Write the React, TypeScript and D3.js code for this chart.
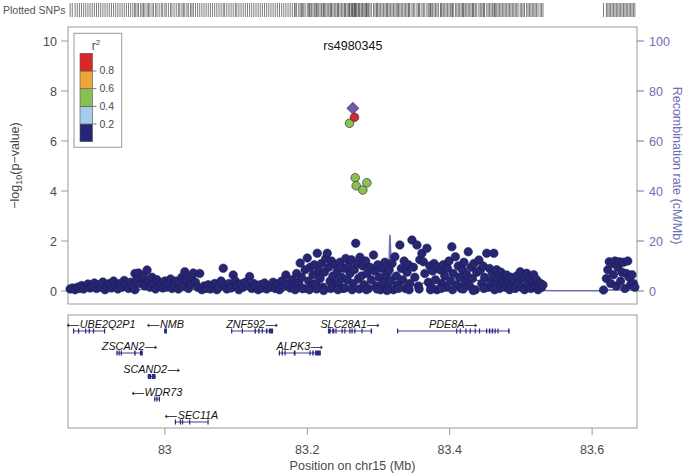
import React from "react";
import * as d3 from "d3";

const W = 685;
const H = 475;

const xDomain: [number, number] = [82.864, 83.663];
const xTicks = [83, 83.2, 83.4, 83.6];
const yTicks = [0, 2, 4, 6, 8, 10];
const recombTicks = [0, 20, 40, 60, 80, 100];
const r2Breaks = [0.2, 0.4, 0.6, 0.8];
const r2Colors = ["#262674", "#a3cde9", "#88c152", "#eda63a", "#d7282a"];
const indexName = "rs4980345";
const indexSnp: [number, number] = [83.264, 7.31];

// [position Mb, -log10 p, r2]
const ldSnps: [number, number, number][] = [
  [83.2593, 6.71, 0.5],
  [83.2673, 4.53, 0.5],
  [83.2687, 4.21, 0.5],
  [83.278, 4.04, 0.5],
  [83.2837, 4.33, 0.5],
  [83.2663, 6.95, 0.9],
];

// [position Mb, -log10 p], r2 < 0.2
const bgSnps: [number, number][] = [
  [82.867, 0.08], [82.870, 0.12], [82.874, 0.05], [82.877, 0.15], [82.880, 0.10], [82.883, 0.22],
  [82.886, 0.08], [82.889, 0.18], [82.892, 0.28], [82.895, 0.12], [82.898, 0.20], [82.901, 0.32],
  [82.904, 0.10], [82.907, 0.25], [82.910, 0.15], [82.913, 0.36], [82.916, 0.05], [82.919, 0.20],
  [82.922, 0.30], [82.925, 0.12], [82.928, 0.40], [82.931, 0.22], [82.934, 0.08], [82.937, 0.30],
  [82.940, 0.15], [82.943, 0.42], [82.946, 0.25], [82.949, 0.10], [82.952, 0.35], [82.955, 0.18],
  [82.958, 0.05], [82.958, 0.70], [82.961, 0.48], [82.963, 0.72], [82.966, 0.30], [82.968, 0.55],
  [82.970, 0.62], [82.972, 0.20], [82.975, 0.84], [82.977, 0.40], [82.979, 0.15], [82.982, 0.55],
  [82.984, 0.28], [82.987, 0.08], [82.989, 0.45], [82.992, 0.22], [82.995, 0.30], [82.997, 0.12],
  [83.000, 0.40], [83.002, 0.15], [83.005, 0.30], [83.008, 0.48], [83.010, 0.10], [83.013, 0.25],
  [83.016, 0.40], [83.019, 0.08], [83.021, 0.32], [83.024, 0.55], [83.026, 0.18], [83.028, 0.77],
  [83.031, 0.45], [83.033, 0.10], [83.036, 0.28], [83.038, 0.60], [83.040, 0.72], [83.043, 0.35],
  [83.046, 0.15], [83.049, 0.70], [83.052, 0.05], [83.055, 0.20], [83.058, 0.10], [83.061, 0.25],
  [83.064, 0.08], [83.067, 0.18], [83.070, 0.30], [83.073, 0.05], [83.076, 0.15], [83.079, 0.40],
  [83.082, 0.91], [83.084, 0.22], [83.087, 0.08], [83.090, 0.30], [83.093, 0.12], [83.096, 0.64],
  [83.099, 0.40], [83.101, 0.20], [83.104, 0.05], [83.107, 0.28], [83.110, 0.15], [83.113, 0.35],
  [83.116, 0.22], [83.119, 0.58], [83.122, 0.10], [83.125, 0.30], [83.128, 0.18], [83.131, 0.05],
  [83.134, 0.25], [83.137, 0.12], [83.140, 0.32], [83.143, 0.08], [83.146, 0.20], [83.149, 0.15],
  [83.152, 0.35], [83.155, 0.10], [83.158, 0.28], [83.161, 0.05], [83.164, 0.40], [83.167, 0.18],
  [83.170, 0.64], [83.173, 0.30], [83.176, 0.12], [83.179, 0.45], [83.182, 0.20], [83.185, 0.70],
  [83.188, 0.35], [83.190, 1.12], [83.192, 0.55], [83.195, 0.10], [83.197, 0.85], [83.200, 1.32],
  [83.202, 0.40], [83.204, 0.95], [83.206, 0.20], [83.208, 0.65], [83.210, 1.05], [83.212, 0.30],
  [83.214, 1.51], [83.216, 0.80], [83.218, 0.50], [83.220, 1.10], [83.222, 0.15], [83.224, 0.75],
  [83.226, 1.30], [83.228, 1.51], [83.230, 0.95], [83.232, 0.40], [83.234, 1.20], [83.236, 0.60],
  [83.238, 0.25], [83.240, 1.05], [83.242, 0.80], [83.244, 0.35], [83.246, 1.15], [83.248, 0.55],
  [83.250, 0.10], [83.252, 0.90], [83.254, 1.30], [83.256, 0.45], [83.258, 1.00], [83.260, 0.70],
  [83.262, 1.25], [83.264, 0.30], [83.266, 0.85], [83.268, 1.91], [83.270, 1.10], [83.272, 0.50],
  [83.274, 1.35], [83.183, 0.05], [83.193, 0.10], [83.203, 0.05], [83.213, 0.08], [83.223, 0.02],
  [83.233, 0.10], [83.243, 0.05], [83.253, 0.12], [83.263, 0.05], [83.273, 0.08],
  [83.276, 0.60], [83.278, 1.00], [83.280, 0.25], [83.282, 1.20], [83.284, 0.70], [83.286, 0.10],
  [83.288, 0.95], [83.290, 0.45], [83.293, 1.44], [83.295, 0.80], [83.297, 0.20], [83.299, 1.05],
  [83.301, 0.55], [83.303, 0.05], [83.305, 0.90], [83.307, 0.35], [83.309, 1.15], [83.311, 0.65],
  [83.313, 0.15], [83.315, 0.85], [83.317, 0.40], [83.319, 1.10], [83.321, 0.05], [83.323, 1.37],
  [83.325, 0.60], [83.327, 0.25], [83.330, 1.84], [83.332, 0.90], [83.334, 0.45], [83.336, 1.20],
  [83.338, 0.10], [83.340, 0.75], [83.342, 1.05], [83.344, 0.30], [83.347, 2.04], [83.349, 0.95],
  [83.351, 0.55], [83.354, 1.84], [83.356, 0.20], [83.358, 1.25], [83.361, 1.51], [83.363, 1.17],
  [83.365, 0.70], [83.368, 1.71], [83.370, 0.35], [83.372, 1.00], [83.374, 0.15], [83.376, 0.80],
  [83.378, 1.10], [83.380, 0.45], [83.382, 0.05], [83.384, 0.95], [83.387, 0.84], [83.389, 0.30],
  [83.391, 1.05], [83.393, 0.60], [83.395, 0.15], [83.397, 0.90], [83.399, 1.20], [83.401, 0.40],
  [83.403, 1.77], [83.405, 0.70], [83.408, 1.37], [83.410, 0.25], [83.412, 1.00], [83.414, 0.55],
  [83.416, 0.10], [83.418, 0.85], [83.420, 1.15], [83.422, 0.35], [83.424, 0.65], [83.426, 1.57],
  [83.428, 0.20], [83.430, 0.95], [83.432, 0.50], [83.434, 1.10], [83.436, 0.05], [83.438, 0.75],
  [83.441, 1.24], [83.443, 0.84], [83.445, 0.30], [83.447, 1.00], [83.449, 0.55], [83.452, 1.51],
  [83.454, 0.15], [83.456, 0.90], [83.458, 0.40], [83.460, 0.70], [83.462, 1.51], [83.464, 0.25],
  [83.466, 0.85], [83.468, 0.50], [83.470, 0.10], [83.472, 0.75], [83.474, 0.35], [83.476, 0.60],
  [83.478, 0.15], [83.480, 0.64], [83.482, 0.30], [83.484, 0.05], [83.486, 0.55], [83.488, 0.20],
  [83.490, 0.45], [83.492, 0.10], [83.494, 0.60], [83.496, 0.30], [83.499, 0.77], [83.501, 0.15],
  [83.503, 0.50], [83.505, 0.05], [83.508, 0.71], [83.510, 0.25], [83.512, 0.55], [83.514, 0.10],
  [83.516, 0.40], [83.518, 0.65], [83.520, 0.20], [83.522, 0.45], [83.524, 0.05], [83.527, 0.31],
  [83.529, 0.15], [83.531, 0.24], [83.283, 0.05], [83.298, 0.08], [83.312, 0.02], [83.328, 0.10],
  [83.343, 0.05], [83.357, 0.08], [83.373, 0.05], [83.388, 0.10], [83.404, 0.05], [83.419, 0.08],
  [83.433, 0.02], [83.448, 0.10], [83.463, 0.05],
  [83.616, 0.04], [83.620, 0.50], [83.622, 0.85], [83.624, 1.17], [83.626, 0.30], [83.628, 1.10],
  [83.630, 0.65], [83.632, 1.20], [83.634, 0.20], [83.636, 0.95], [83.638, 1.17], [83.640, 0.40],
  [83.642, 0.75], [83.644, 1.15], [83.646, 0.10], [83.648, 0.70], [83.650, 1.20], [83.652, 0.55],
  [83.654, 0.25], [83.656, 0.65], [83.658, 0.30], [83.660, 0.15],
];

// [position Mb, recombination rate cM/Mb]
const recomb: [number, number][] = [
  [82.864, 0.5], [82.9, 0.8], [82.95, 0.4], [83.0, 1.0], [83.05, 0.6], [83.1, 0.9], [83.15, 1.2],
  [83.2, 2.0], [83.25, 3.5], [83.285, 3.0], [83.288, 7.0], [83.292, 2.5], [83.314, 2.0],
  [83.316, 22.5], [83.319, 3.0], [83.35, 2.5], [83.4, 5.0], [83.45, 4.0], [83.47, 1.0],
  [83.5, 0.3], [83.55, 0.1], [83.61, 0.1], [83.63, 0.5], [83.663, 0.3],
];

interface Gene { name: string; start: number; end: number; strand: number; row: number; exons: [number, number][]; }
const genes: Gene[] = [
  { name: "UBE2Q2P1", start: 82.871, end: 82.916, strand: -1, row: 0,
    exons: [[82.871, 82.8725], [82.878, 82.8795], [82.888, 82.8895], [82.893, 82.8945], [82.899, 82.9005], [82.9145, 82.916]] },
  { name: "NMB", start: 82.999, end: 83.003, strand: -1, row: 0, exons: [[82.999, 83.003]] },
  { name: "ZNF592", start: 83.093, end: 83.152, strand: 1, row: 0,
    exons: [[83.093, 83.0945], [83.108, 83.1095], [83.126, 83.128], [83.131, 83.133], [83.136, 83.1375], [83.142, 83.144], [83.146, 83.152]] },
  { name: "SLC28A1", start: 83.229, end: 83.291, strand: 1, row: 0,
    exons: [[83.229, 83.233], [83.235, 83.238], [83.2395, 83.241], [83.248, 83.2495], [83.252, 83.2535], [83.259, 83.2605], [83.262, 83.2635], [83.266, 83.2675], [83.276, 83.2775], [83.289, 83.291]] },
  { name: "PDE8A", start: 83.326, end: 83.484, strand: 1, row: 0,
    exons: [[83.326, 83.3272], [83.409, 83.4102], [83.414, 83.4152], [83.422, 83.4232], [83.428, 83.4292], [83.435, 83.4362], [83.441, 83.4422], [83.451, 83.4525], [83.455, 83.457], [83.459, 83.461], [83.463, 83.4642], [83.467, 83.4682], [83.482, 83.484]] },
  { name: "ZSCAN2", start: 82.932, end: 82.969, strand: 1, row: 1,
    exons: [[82.932, 82.9335], [82.935, 82.9365], [82.938, 82.9395], [82.957, 82.959], [82.965, 82.969]] },
  { name: "ALPK3", start: 83.160, end: 83.219, strand: 1, row: 1,
    exons: [[83.160, 83.1615], [83.164, 83.1655], [83.168, 83.1695], [83.181, 83.1835], [83.203, 83.2045], [83.207, 83.209], [83.211, 83.219]] },
  { name: "SCAND2", start: 82.976, end: 82.987, strand: 1, row: 2, exons: [[82.976, 82.981], [82.982, 82.987]] },
  { name: "WDR73", start: 82.985, end: 82.993, strand: -1, row: 3,
    exons: [[82.985, 82.9865], [82.988, 82.9895], [82.9915, 82.993]] },
  { name: "SEC11A", start: 83.014, end: 83.061, strand: -1, row: 4,
    exons: [[83.014, 83.0152], [83.021, 83.0222], [83.024, 83.0252], [83.034, 83.0352], [83.0598, 83.061]] },
];

const FONT = "'Liberation Sans', Arial, Helvetica, sans-serif";
const TXT = "#4a4a4a";
const FRAME = "#9a9a9a";
const RECOMB = "#6e6eb4";

export default function App() {
  const left = 68, right = 637;
  const top = 27, bottom = 304;
  const gTop = 315, gBottom = 428;
  const rowY = [331, 353, 376.5, 399, 422];

  const x = d3.scaleLinear().domain(xDomain).range([left, right]);
  const y = d3.scaleLinear().domain([-0.52, 10.56]).range([bottom, top]);
  const yR = d3.scaleLinear().domain([-5.2, 105.6]).range([bottom, top]);
  const r2Color = d3.scaleThreshold<number, string>().domain(r2Breaks).range(r2Colors);

  const recombLine = d3.line<[number, number]>().x(d => x(d[0])).y(d => yR(d[1]));

  const allPos = [...bgSnps.map(d => d[0]), ...ldSnps.map(d => d[0]), indexSnp[0]];

  // legend
  const legX = 80, legW = 12.5, legTop = 53.3, segH = 17.68;
  const legScale = d3.scaleLinear().domain([1, 0]).range([legTop, legTop + segH * 5]);

  const ix = x(indexSnp[0]), iy = y(indexSnp[1]);
  const dSize = 6;

  return (
    <svg width={W} height={H} style={{ position: "absolute", left: 0, top: 0, background: "#fff" }} fontFamily={FONT}>
      {/* Plotted SNPs rug */}
      <text x={3} y={14} fontSize={10.5} fill="#555">Plotted SNPs</text>
      {allPos.map((p, i) => (
        <line key={"rug" + i} x1={x(p)} x2={x(p)} y1={3} y2={17} stroke="#444" strokeWidth={0.7} />
      ))}

      {/* Main frame */}
      <rect x={left} y={top} width={right - left} height={bottom - top} fill="none" stroke={FRAME} strokeWidth={1} />

      {/* Left axis */}
      {yTicks.map(t => (
        <g key={"yt" + t}>
          <line x1={left - 7} x2={left} y1={y(t)} y2={y(t)} stroke={FRAME} />
          <text x={left - 11} y={y(t) + 4.5} fontSize={12.5} fill={TXT} textAnchor="end">{t}</text>
        </g>
      ))}
      <text transform={`translate(19,${(top + bottom) / 2}) rotate(-90)`} fontSize={12.5} fill={TXT} textAnchor="middle">
        −log<tspan fontSize={9} dy={3}>10</tspan><tspan dy={-3}>(p−value)</tspan>
      </text>

      {/* Right axis */}
      {recombTicks.map(t => (
        <g key={"rt" + t}>
          <line x1={right} x2={right + 7} y1={yR(t)} y2={yR(t)} stroke={RECOMB} />
          <text x={right + 12} y={yR(t) + 4.5} fontSize={12.5} fill={RECOMB}>{t}</text>
        </g>
      ))}
      <text transform={`translate(673,${(top + bottom) / 2}) rotate(90)`} fontSize={12.5} fill={RECOMB} textAnchor="middle">
        Recombination rate (cM/Mb)
      </text>

      {/* recombination line */}
      <path d={recombLine(recomb) || ""} fill="none" stroke={RECOMB} strokeWidth={1.6} />

      {/* background SNPs */}
      {bgSnps.map((d, i) => (
        <circle key={"bg" + i} cx={x(d[0])} cy={y(d[1])} r={4.3} fill={r2Colors[0]} stroke="#1a1a4a" strokeWidth={0.5} />
      ))}
      {ldSnps.map((d, i) => (
        <circle key={"ld" + i} cx={x(d[0])} cy={y(d[1])} r={4.3} fill={r2Color(d[2])} stroke="#333" strokeWidth={0.7} />
      ))}
      <path d={`M${ix},${iy - dSize}L${ix + dSize},${iy}L${ix},${iy + dSize}L${ix - dSize},${iy}Z`} fill="#7558a8" stroke="#3a2a60" strokeWidth={0.7} />
      <text x={x(indexSnp[0])} y={50} fontSize={12.5} fill="#111" textAnchor="middle">{indexName}</text>

      {/* Legend */}
      <rect x={74} y={33.3} width={47.7} height={114} fill="#fff" stroke={FRAME} />
      <text x={96} y={50} fontSize={12} fill={TXT} textAnchor="middle">
        r<tspan fontSize={8} dy={-5}>2</tspan>
      </text>
      {r2Colors.map((c, i) => {
        const hi = i === 4 ? 1 : r2Breaks[i];
        const lo = i === 0 ? 0 : r2Breaks[i - 1];
        return (
          <rect key={"lg" + i} x={legX} y={legScale(hi)} width={legW} height={legScale(lo) - legScale(hi)} fill={c} stroke="#555" strokeWidth={0.6} />
        );
      })}
      {r2Breaks.map(b => (
        <g key={"lb" + b}>
          <line x1={legX + legW} x2={legX + legW + 4} y1={legScale(b)} y2={legScale(b)} stroke="#777" />
          <text x={legX + legW + 7} y={legScale(b) + 3.5} fontSize={10.5} fill={TXT}>{b}</text>
        </g>
      ))}

      {/* Gene panel */}
      <rect x={left} y={gTop} width={right - left} height={gBottom - gTop} fill="none" stroke={FRAME} />
      {genes.map(g => {
        const gy = rowY[g.row];
        const cx = (x(g.start) + x(g.end)) / 2;
        const estW = g.name.length * 6.3 + 12;
        const lx = Math.max(cx, left + 2 + estW / 2);
        return (
          <g key={g.name}>
            <line x1={x(g.start)} x2={x(g.end)} y1={gy} y2={gy} stroke="#2a2a80" strokeWidth={0.9} />
            {g.exons.map((e, i) => (
              <rect key={i} x={x(e[0])} y={gy - 2.5} width={Math.max(1.2, x(e[1]) - x(e[0]))} height={5} fill="#2a2a80" />
            ))}
            <text x={lx} y={gy - 3.5} fontSize={10.8} fontStyle="italic" fill="#111" textAnchor="middle">
              {g.strand < 0 ? (
                <>
                  <tspan fontFamily="'DejaVu Sans'" fontStyle="normal" fontSize={9}>{"\u27F5"}</tspan>
                  {g.name}
                </>
              ) : (
                <>
                  {g.name}
                  <tspan fontFamily="'DejaVu Sans'" fontStyle="normal" fontSize={9}>{"\u27F6"}</tspan>
                </>
              )}
            </text>
          </g>
        );
      })}

      {/* X axis */}
      {xTicks.map(t => (
        <g key={"xt" + t}>
          <line x1={x(t)} x2={x(t)} y1={gBottom} y2={gBottom + 7} stroke={FRAME} />
          <text x={x(t)} y={gBottom + 26} fontSize={12.5} fill={TXT} textAnchor="middle">{t}</text>
        </g>
      ))}
      <text x={(left + right) / 2} y={470} fontSize={12.5} fill={TXT} textAnchor="middle">Position on chr15 (Mb)</text>
    </svg>
  );
}
